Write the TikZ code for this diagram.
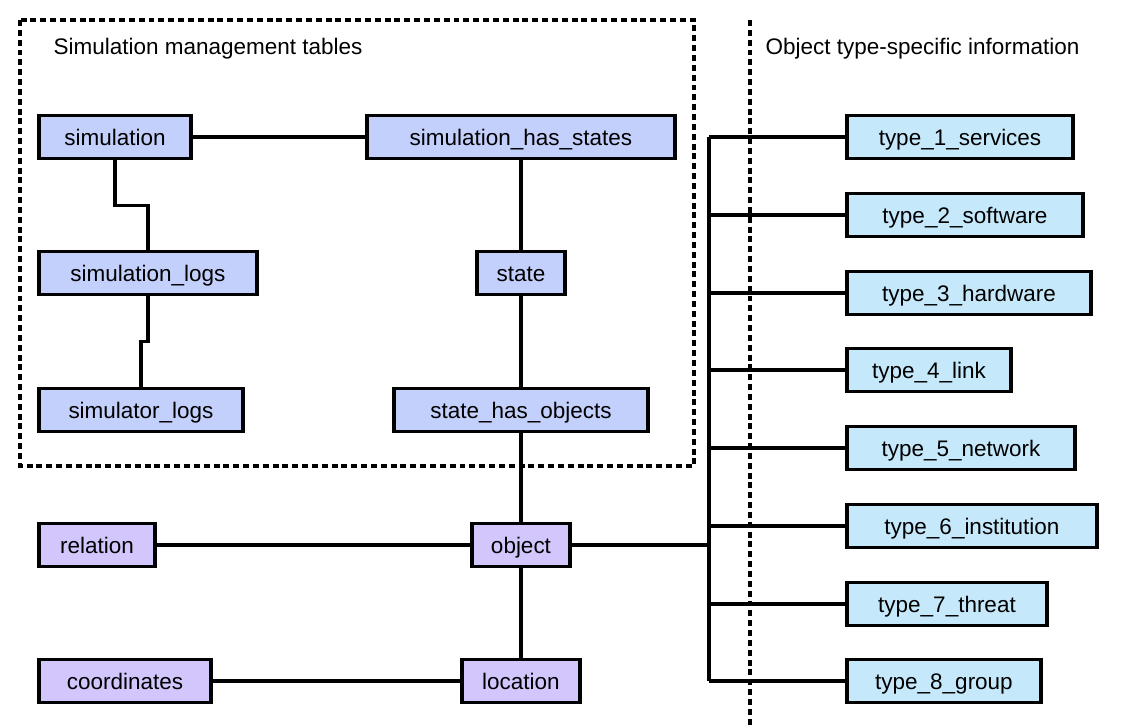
\documentclass[tikz,border=0pt]{standalone}
\usepackage{fontspec}
\setmainfont{Liberation Sans}
\usepackage{tikz}
\usetikzlibrary{positioning}

\definecolor{mgmtblue}{RGB}{195,208,252}
\definecolor{objpurple}{RGB}{210,198,252}
\definecolor{typecyan}{RGB}{197,233,251}

\begin{document}
\begin{tikzpicture}[x=0.02cm, y=-0.02cm, line width=1.8pt, font=\fontsize{12.8}{15}\selectfont, text height=.95em, text depth=0pt, tbl/.style={rectangle, draw, line width=2.2pt, minimum height=0.86cm, inner sep=0pt}, mgmt/.style={tbl, fill=mgmtblue}, core/.style={tbl, fill=objpurple}, typ/.style={tbl, fill=typecyan}, frame/.style={line width=2pt, dash pattern=on 3.4pt off 2.2pt}]
  \useasboundingbox (0,0) rectangle (1130,725);

  % simulation management group
  \draw[frame] (20,20) rectangle (694,466);
  \draw[frame] (750,20) -- (750,725);
  \node[anchor=west, inner sep=0pt] (mgmttitle) at (52,46) {Simulation management tables};
  \node[anchor=west, inner sep=0pt] (typetitle) at (764,46) {Object type-specific information};

  \node[mgmt, minimum width=3.05cm] (simulation) at (115,137) {simulation};
  \node[mgmt, minimum width=6.15cm] (simstates) at (521,137) {simulation\_has\_states};
  \node[mgmt, minimum width=4.35cm] (simlogs) at (148,273) {simulation\_logs};
  \node[mgmt, minimum width=1.75cm] (state) at (521,273) {state};
  \node[mgmt, minimum width=4.09cm] (simulatorlogs) at (141,410) {simulator\_logs};
  \node[mgmt, minimum width=5.07cm] (stateobjs) at (521,410) {state\_has\_objects};

  % objects and where they are
  \node[core, minimum width=2.33cm] (relation) at (97,545) {relation};
  \node[core, minimum width=1.97cm] (object) at (521,545) {object};
  \node[core, minimum width=3.43cm] (coordinates) at (125,681) {coordinates};
  \node[core, minimum width=2.35cm] (location) at (521,681) {location};

  % per-type tables
  \node[typ, minimum width=4.51cm] (type1) at (960,137) {type\_1\_services};
  \node[typ, minimum width=4.73cm] (type2) at (965,215) {type\_2\_software};
  \node[typ, minimum width=4.87cm] (type3) at (969,293) {type\_3\_hardware};
  \node[typ, minimum width=3.27cm] (type4) at (929,370) {type\_4\_link};
  \node[typ, minimum width=4.55cm] (type5) at (961,448) {type\_5\_network};
  \node[typ, minimum width=5.01cm] (type6) at (972,526) {type\_6\_institution};
  \node[typ, minimum width=4.01cm] (type7) at (947,604) {type\_7\_threat};
  \node[typ, minimum width=3.87cm] (type8) at (944,681) {type\_8\_group};
  \coordinate (bus) at (709,545);

  \draw (simulation) -- (simstates);
  \draw (simulation.south) -- ++(0,45) -| (simlogs.north);
  \draw (simlogs.south) -- ++(0,45) -| (simulatorlogs.north);
  \draw (simstates) -- (state);
  \draw (state) -- (stateobjs);
  \draw (stateobjs) -- (object);
  \draw (object) -- (location);
  \draw (relation) -- (object);
  \draw (coordinates) -- (location);

  % bus to the type tables
  \draw[line width=2.4pt] (object.east) -- (bus);
  \draw[line width=2.4pt] (type1.west -| bus) -- (type8.west -| bus);
  \foreach \t in {type1,type2,type3,type4,type5,type6,type7,type8}
    \draw (\t.west) -- (\t.west -| bus);
\end{tikzpicture}
\end{document}
